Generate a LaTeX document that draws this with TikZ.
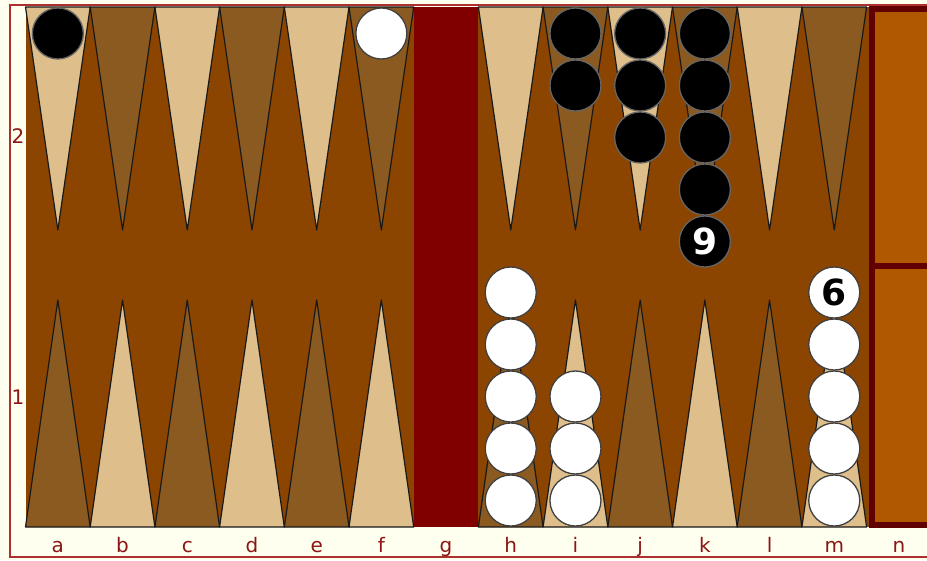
\documentclass[tikz,border=0pt]{standalone}
\usepackage{fontspec}
\setmainfont{DejaVu Sans}
\usepackage{tikz}
\usetikzlibrary{positioning}
\definecolor{boardcream}{RGB}{255,255,240}
\definecolor{boardframe}{RGB}{172,48,48}
\definecolor{boardbrown}{RGB}{139,69,0}
\definecolor{pointlight}{RGB}{222,191,140}
\definecolor{pointdark}{RGB}{139,90,32}
\definecolor{barred}{RGB}{128,0,0}
\definecolor{trayorange}{RGB}{176,88,0}
\definecolor{trayedge}{RGB}{96,0,0}
\definecolor{labelred}{RGB}{140,22,22}

\begin{document}
\begin{tikzpicture}[x=1pt, y=-1pt,
  pointtri/.style={draw=black!90, line width=1.2pt, line join=round},
  checker/.style={circle, minimum size=51pt, inner sep=0pt, line width=1.3pt,
                  font=\bfseries\fontsize{36}{36}\selectfont},
  blackchk/.style={checker, fill=black, draw=black!60, text=white},
  whitechk/.style={checker, fill=white, draw=black!75, text=black},
  coordlabel/.style={text=labelred, inner sep=0pt, font=\fontsize{20}{20}\selectfont}
]
\useasboundingbox (0,0) rectangle (927,560);
\clip (0,0) rectangle (927,560);
\fill[boardcream] (0,0) rectangle (927,560);
\fill[boardbrown] (25.5,7) rectangle (872,527);
\fill[barred] (413.5,7) rectangle (478.2,527);

\foreach \i in {0,2,4,7,9,11} {
  \filldraw[pointtri, fill=pointlight] ({25.5+64.7*\i},7) -- ({25.5+64.7*(\i+0.5)},230) -- ({25.5+64.7*(\i+1)},7) -- cycle;
  \filldraw[pointtri, fill=pointdark] ({25.5+64.7*\i},527) -- ({25.5+64.7*(\i+0.5)},300) -- ({25.5+64.7*(\i+1)},527) -- cycle;
}
\foreach \i in {1,3,5,8,10,12} {
  \filldraw[pointtri, fill=pointdark] ({25.5+64.7*\i},7) -- ({25.5+64.7*(\i+0.5)},230) -- ({25.5+64.7*(\i+1)},7) -- cycle;
  \filldraw[pointtri, fill=pointlight] ({25.5+64.7*\i},527) -- ({25.5+64.7*(\i+0.5)},300) -- ({25.5+64.7*(\i+1)},527) -- cycle;
}

\filldraw[fill=trayorange, draw=trayedge, line width=6pt] (872,9) rectangle (940,525);
\draw[trayedge, line width=6pt] (872,266) coordinate (traymid) -- (940,266) coordinate (trayend);

\foreach \c/\n in {0/1,8/2,9/3,10/4}
  \foreach \k in {1,...,\n}
    \node[blackchk] (blk-\c-\k) at ({25.5+64.7*(\c+0.5)},{33.5+52*(\k-1)}) {};
\node[blackchk] (blk-10-5) at ({25.5+64.7*10.5},241.5) {9};

\node[whitechk] (wht-5-1) at ({25.5+64.7*5.5},33.5) {};
\foreach \c/\n in {7/5,8/3,12/4}
  \foreach \k in {1,...,\n}
    \node[whitechk] (wht-\c-\k) at ({25.5+64.7*(\c+0.5)},{500.5-52*(\k-1)}) {};
\node[whitechk] (wht-12-5) at ({25.5+64.7*12.5},292.5) {6};

\foreach \l [count=\c from 0] in {a,b,c,d,e,f,g,h,i,j,k,l,m,n}
  \node[coordlabel, anchor=base] (col-\l) at ({25.5+64.7*(\c+0.5)},552) {\l};
\node[coordlabel] (row-2) at (18,136) {2};
\node[coordlabel] (row-1) at (18,397) {1};

\draw[boardframe, line width=2.4pt] (10,5) rectangle (940,557);
\end{tikzpicture}
\end{document}
